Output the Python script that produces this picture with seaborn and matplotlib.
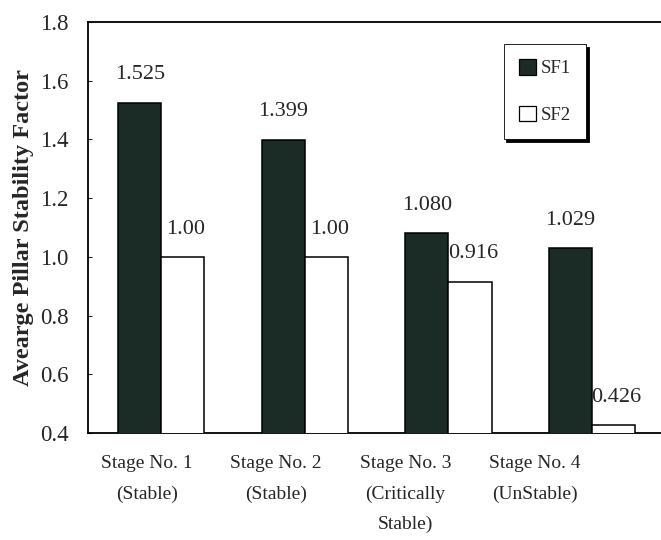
import matplotlib
matplotlib.use("Agg")
import matplotlib.pyplot as plt
import seaborn as sns
import pandas as pd
from matplotlib.patches import Patch

# Average pillar stability factors per mining stage
stages = ["Stage No. 1\n(Stable)", "Stage No. 2\n(Stable)",
          "Stage No. 3\n(Critically\nStable)", "Stage No. 4\n(UnStable)"]
sf1 = [1.525, 1.399, 1.080, 1.029]
sf2 = [1.00, 1.00, 0.916, 0.426]
sf1_labels = ["1.525", "1.399", "1.080", "1.029"]
sf2_labels = ["1.00", "1.00", "0.916", "0.426"]
series = ["SF1", "SF2"]
y_ticks = [0.4, 0.6, 0.8, 1.0, 1.2, 1.4, 1.6, 1.8]

df = pd.DataFrame({
    "stage": stages * 2,
    "factor": sf1 + sf2,
    "series": [series[0]] * len(stages) + [series[1]] * len(stages),
})

sns.set_theme(style="white")
plt.rcParams["font.family"] = ["Liberation Serif", "DejaVu Serif"]

fig = plt.figure(figsize=(6.61, 5.40), dpi=100)
ax = fig.add_axes([88 / 661, 1 - 433 / 540, 1 - 88 / 661, (433 - 22) / 540])

palette = {"SF1": "#1b2c26", "SF2": "#ffffff"}
sns.barplot(data=df, x="stage", y="factor", hue="series", palette=palette,
            width=0.6, gap=0, edgecolor="black", linewidth=1.1,
            saturation=1, ax=ax, zorder=3, legend=False)

ax.set_ylim(0.4, 1.8)
ax.set_xlim(-0.51, 3.48)
ax.set_yticks(y_ticks)
ax.set_yticklabels([f"{v:.1f}" for v in y_ticks], fontsize=16.5)
ax.tick_params(axis="y", direction="in", length=3, width=0.8, pad=14, left=True)

# Stage captions sit on a slightly tighter pitch than the bar groups
label_pos = [-0.1 + 0.9 * i for i in range(len(stages))]
ax.set_xticks(label_pos)
ax.set_xticklabels(stages, fontsize=14, linespacing=2.0, ha="center")
ax.tick_params(axis="x", length=0, pad=16)

ax.set_xlabel("")
ax.set_ylabel("Avearge Pillar Stability Factor", fontsize=17.5, fontweight="bold", labelpad=4)

for side in ["left", "bottom", "top"]:
    ax.spines[side].set_color("black")
    ax.spines[side].set_linewidth(1.3)
ax.spines["right"].set_visible(False)

# Value labels above each bar (drawn under the bars)
label_sets = [sf1_labels, sf2_labels]
x_shift = [0, 2]
for container, labels, dx in zip(ax.containers, label_sets, x_shift):
    for bar, text in zip(container.patches, labels):
        xc = bar.get_x() + bar.get_width() / 2
        ax.annotate(text, (xc, bar.get_height()), xytext=(dx, 20),
                    textcoords="offset points", ha="center", va="center",
                    fontsize=16, zorder=1)

# Legend with shadowed frame
handles = [Patch(facecolor=palette[s], edgecolor="black", linewidth=0.9) for s in series]
leg = ax.legend(handles, series, loc="center",
                bbox_to_anchor=(0.714, 0.725, 0.167, 0.212),
                frameon=True, fancybox=False, shadow={"color": "black", "alpha": 1},
                handlelength=0.9, handleheight=0.9, handletextpad=0.3,
                labelspacing=1.5, fontsize=13.5, borderpad=0.8)
leg.get_frame().set_edgecolor("black")
leg.get_frame().set_linewidth(0.6)

fig.savefig("out.png", dpi=100)
